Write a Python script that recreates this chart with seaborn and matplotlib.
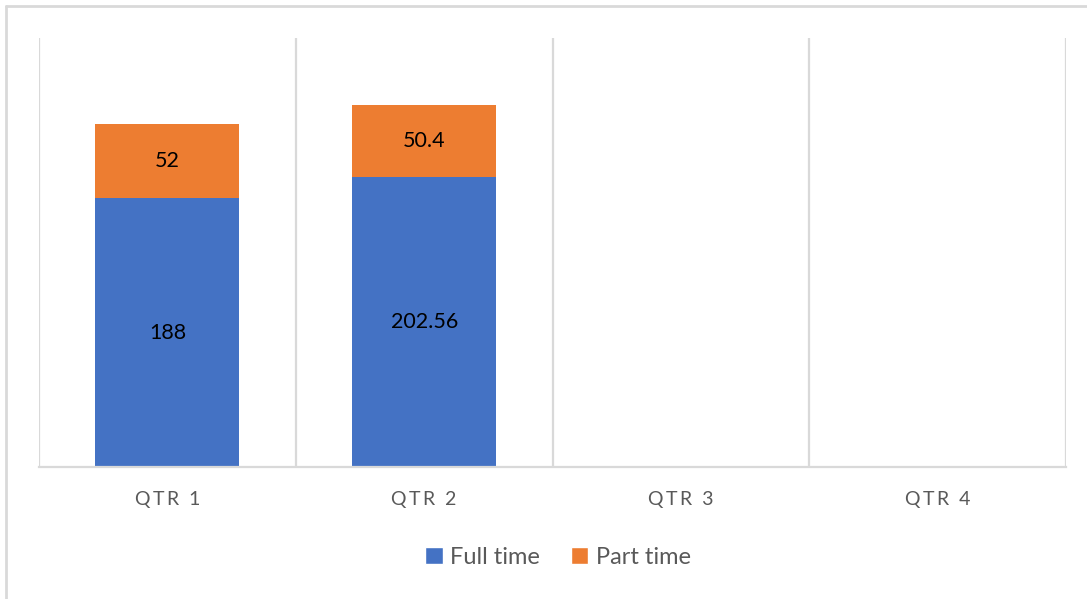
import matplotlib
matplotlib.use("Agg")
import matplotlib.pyplot as plt
from matplotlib.lines import Line2D
from matplotlib.patches import Patch
import seaborn as sns
import pandas as pd

quarters = ["QTR 1", "QTR 2", "QTR 3", "QTR 4"]
full_time = [188, 202.56]
part_time = [52, 50.4]

BLUE = "#4472C4"
ORANGE = "#ED7D31"
GRID = "#D9D9D9"
TEXT_GRAY = "#595959"

sns.set_theme(style="white")
plt.rcParams["font.family"] = ["Lato", "DejaVu Sans"]

df = pd.DataFrame({
    "quarter": quarters[:len(full_time)],
    "full": full_time,
    "part": part_time,
})
df["total"] = df["full"] + df["part"]

fig = plt.figure(figsize=(10.87, 5.99), dpi=100)
ax = fig.add_axes([39 / 1087, 1 - 467 / 599, (1066 - 39) / 1087, (467 - 38) / 599])

# stacked bars: total (orange) underneath, full time (blue) drawn over it
sns.barplot(data=df, x="quarter", y="total", order=quarters, color=ORANGE,
            width=0.56, saturation=1, ax=ax, edgecolor="none")
sns.barplot(data=df, x="quarter", y="full", order=quarters, color=BLUE,
            width=0.56, saturation=1, ax=ax, edgecolor="none")

ax.set_xlim(-0.5, len(quarters) - 0.5)
ax.set_ylim(0, 300)

# segment value labels
for i, (f, p) in enumerate(zip(full_time, part_time)):
    ax.text(i, f / 2, f"{f:g}", ha="center", va="center", fontsize=15.5, color="black")
    ax.text(i, f + p / 2, f"{p:g}", ha="center", va="center", fontsize=15.5, color="black")

# vertical separators between categories
for b in range(len(quarters) + 1):
    ax.axvline(b - 0.5, color=GRID, lw=1.6, zorder=0)

for s in ["top", "left", "right"]:
    ax.spines[s].set_visible(False)
ax.spines["bottom"].set_color(GRID)
ax.spines["bottom"].set_linewidth(1.6)

ax.set_yticks([])
ax.set_xlabel("")
ax.set_ylabel("")
ax.set_xticks(range(len(quarters)))
spaced = ["\u2009".join(list(q)) for q in quarters]
ax.set_xticklabels(spaced, fontsize=14, color=TEXT_GRAY)
ax.tick_params(axis="x", length=0, pad=17)

handles = [Patch(facecolor=BLUE, label="Full time"),
           Patch(facecolor=ORANGE, label="Part time")]
fig.legend(handles=handles, loc="center", bbox_to_anchor=(558 / 1087, 1 - 557 / 599),
           ncol=2, frameon=False, fontsize=17, handlelength=0.75, handleheight=0.75,
           handletextpad=0.3, columnspacing=1.3, labelcolor=TEXT_GRAY)

# chart frame lines (left and top)
fig.add_artist(Line2D([6 / 1087, 6 / 1087], [0, 1 - 6 / 599], color=GRID, lw=2,
                      transform=fig.transFigure))
fig.add_artist(Line2D([6 / 1087, 1], [1 - 6 / 599, 1 - 6 / 599], color=GRID, lw=2,
                      transform=fig.transFigure))

fig.savefig("out.png", dpi=100, facecolor="white")
